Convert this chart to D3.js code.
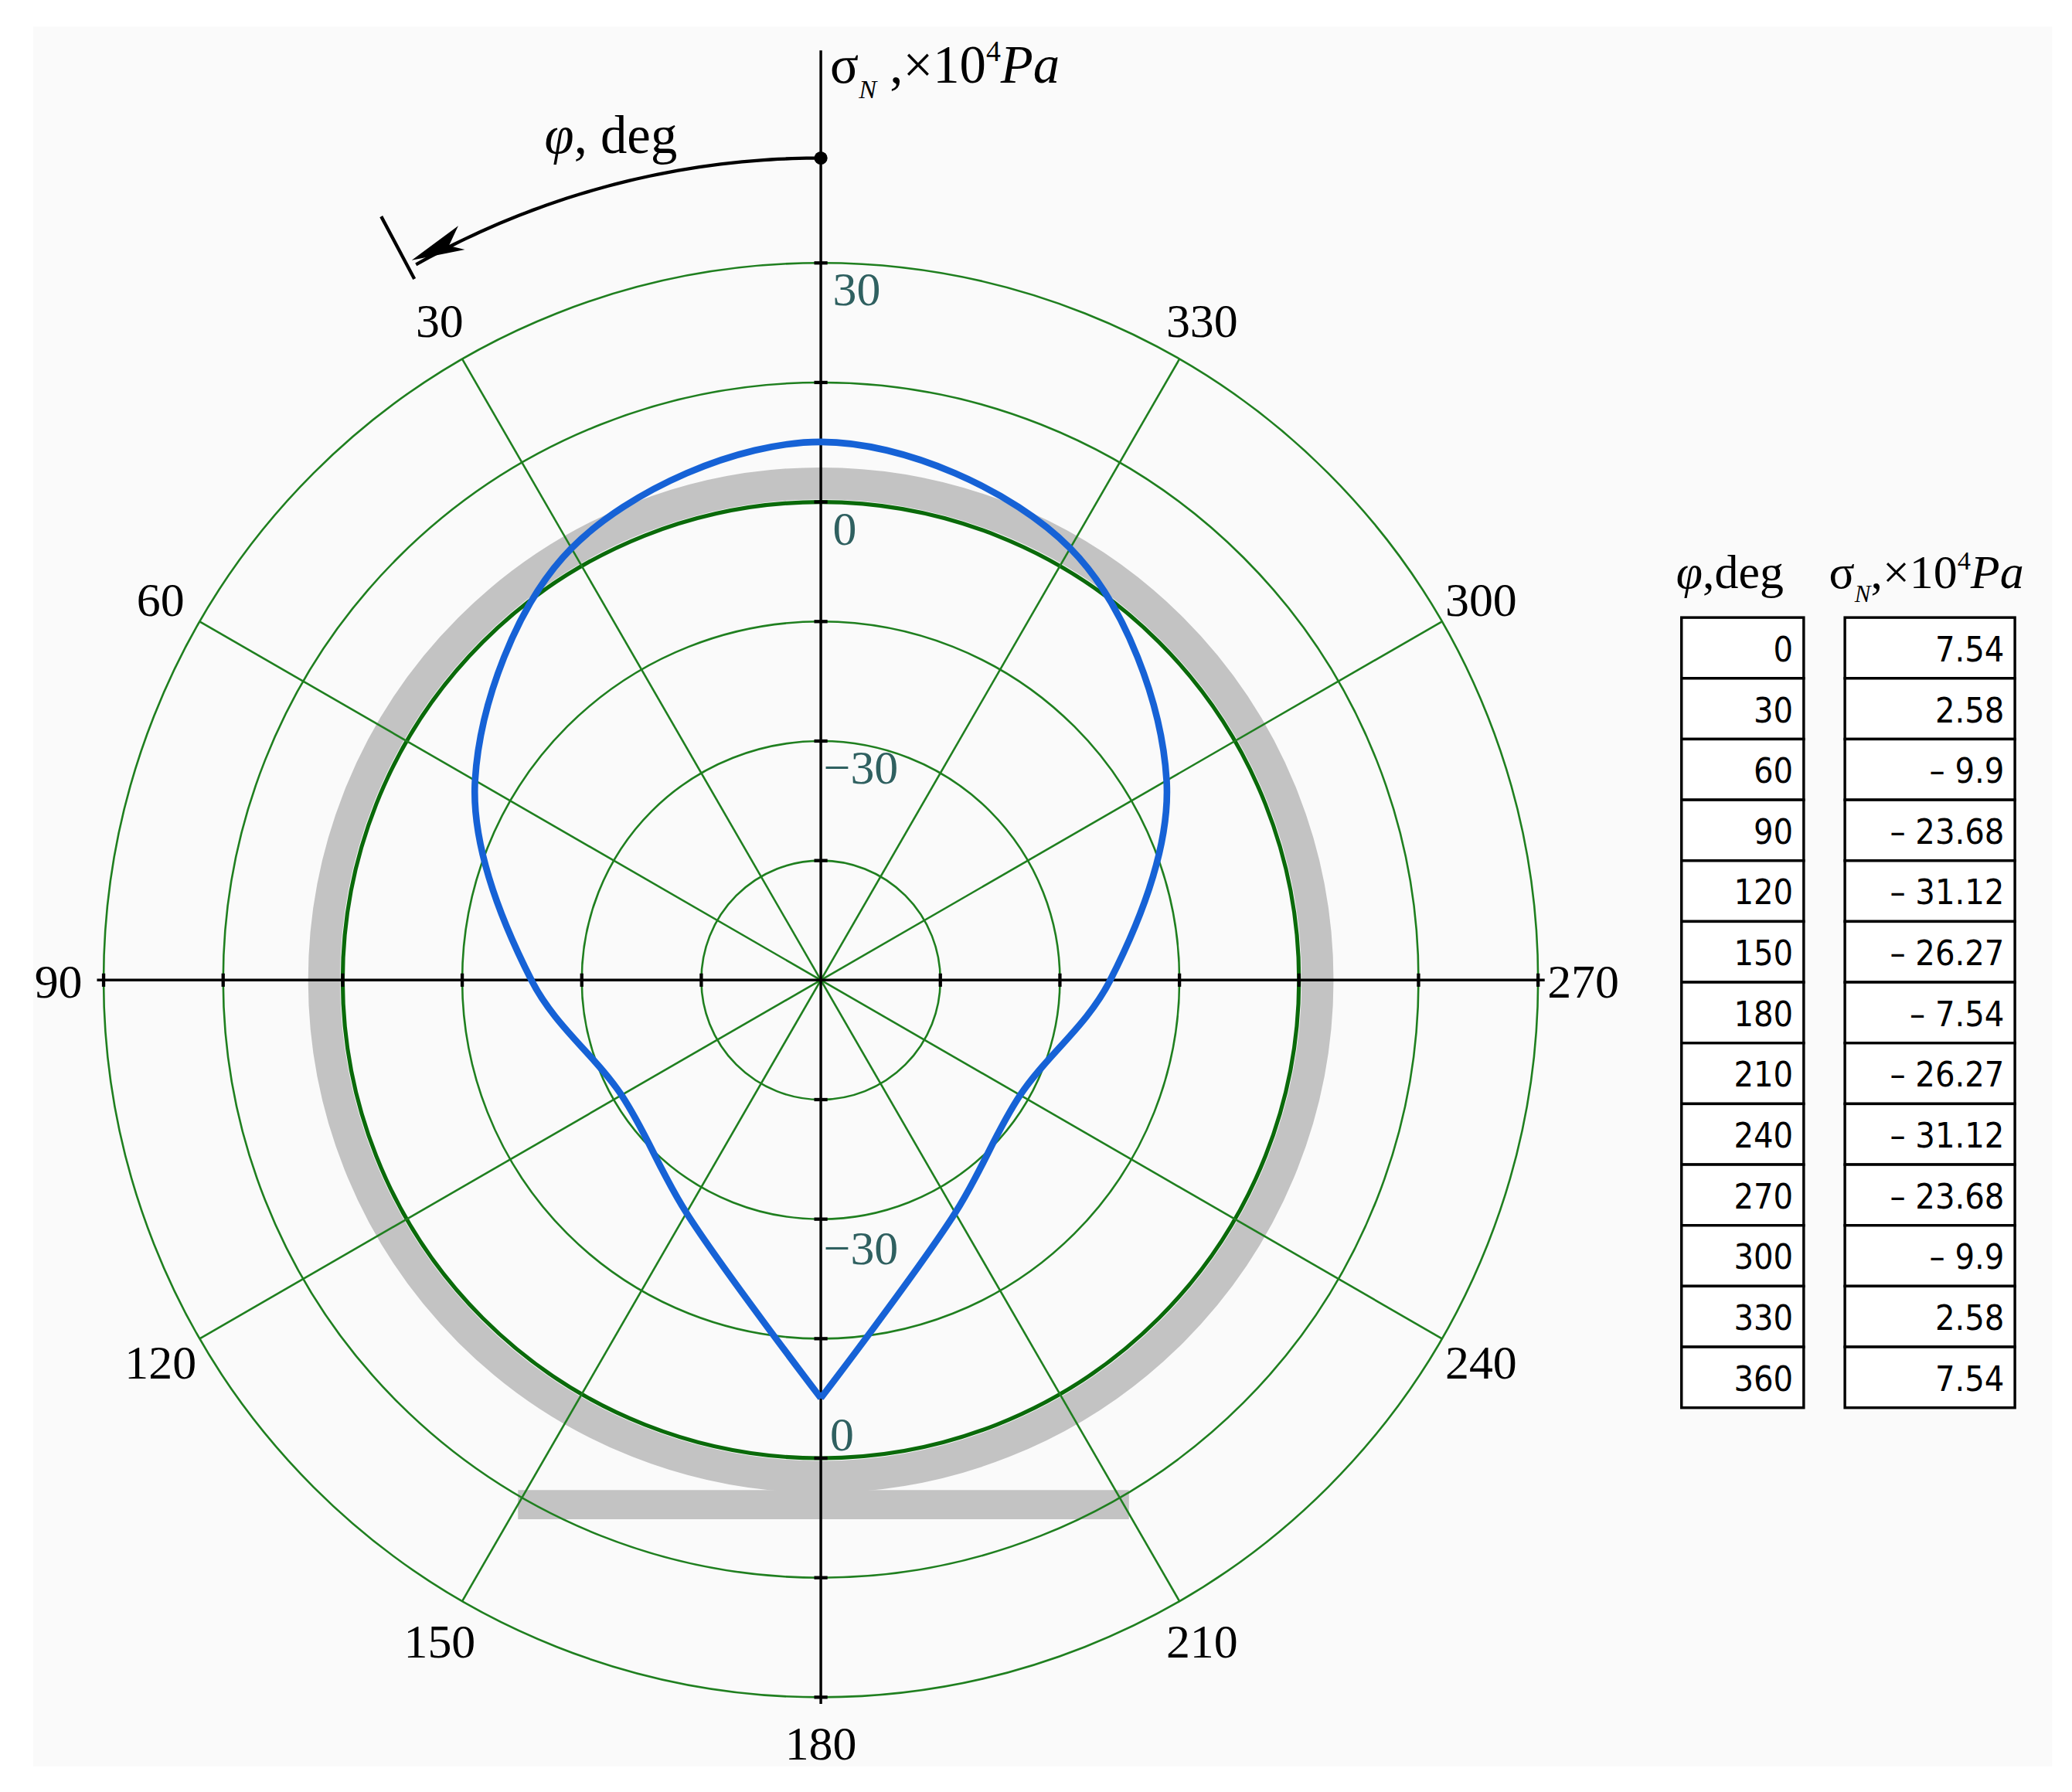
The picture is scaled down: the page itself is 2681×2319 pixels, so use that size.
<!DOCTYPE html><html><head><meta charset="utf-8"><script src="https://cdn.jsdelivr.net/npm/d3@7"></script>
<style>body{margin:0;background:#fff}</style></head><body><svg id="c" width="2681" height="2319"></svg>
<script>
const angles=[0,30,60,90,120,150,180,210,240,270,300,330,360];
const sigma=[7.54,2.58,-9.9,-23.68,-31.12,-26.27,-7.54,-26.27,-31.12,-23.68,-9.9,2.58,7.54];
const sigmaLabels=["7.54","2.58","\u2013 9.9","\u2013 23.68","\u2013 31.12","\u2013 26.27","\u2013 7.54","\u2013 26.27","\u2013 31.12","\u2013 23.68","\u2013 9.9","2.58","7.54"];
const ringValues=[-45,-30,-15,0,15,30];
const axisTickLabels=[{v:30,t:"30"},{v:0,t:"0"},{v:-30,t:"\u221230"}];
const spokeAngles=[0,30,60,90,120,150,180,210,240,270,300,330];
const angleLabels=[30,60,90,120,150,180,210,240,270,300,330];

const k=2681/1560;
const svg=d3.select("#c");
const g=svg.append("g").attr("transform",`scale(${k})`);
const cx=618,cy=738;
const r=d3.scaleLinear().domain([-60,30]).range([0,540]);
const pt=(phi,rad)=>[cx-rad*Math.sin(phi*Math.PI/180),cy-rad*Math.cos(phi*Math.PI/180)];
const green="#1f7f1f",serif="Liberation Serif, serif";
g.append("rect").attr("x",25).attr("y",20).attr("width",1520).attr("height",1310).attr("fill","#fafafa");
g.append("circle").attr("cx",cx).attr("cy",cy).attr("r",374).attr("fill","none").attr("stroke","#c3c3c3").attr("stroke-width",24);
g.append("line").attr("x1",390).attr("x2",850).attr("y1",1133).attr("y2",1133).attr("stroke","#c3c3c3").attr("stroke-width",22);
ringValues.forEach(v=>g.append("circle").attr("cx",cx).attr("cy",cy).attr("r",r(v)).attr("fill","none").attr("stroke",v===0?"#0a6a0a":green).attr("stroke-width",v===0?3:1.5));
spokeAngles.forEach(a=>{if(a%90===0)return;const p=pt(a,540);g.append("line").attr("x1",cx).attr("y1",cy).attr("x2",p[0]).attr("y2",p[1]).attr("stroke",green).attr("stroke-width",1.5);});
g.append("line").attr("x1",cx).attr("x2",cx).attr("y1",38).attr("y2",1283).attr("stroke","#000").attr("stroke-width",2);
g.append("line").attr("x1",73).attr("x2",1163).attr("y1",cy).attr("y2",cy).attr("stroke","#000").attr("stroke-width",2);
ringValues.forEach(v=>{const d=r(v);[-1,1].forEach(s=>{
 g.append("line").attr("x1",cx-5).attr("x2",cx+5).attr("y1",cy+s*d).attr("y2",cy+s*d).attr("stroke","#000").attr("stroke-width",2.5);
 g.append("line").attr("y1",cy-5).attr("y2",cy+5).attr("x1",cx+s*d).attr("x2",cx+s*d).attr("stroke","#000").attr("stroke-width",2.5);});});
axisTickLabels.forEach(o=>{g.append("text").attr("x",o.v===-30?620:627).attr("y",cy-r(o.v)+32).text(o.t).attr("font-family",serif).attr("font-size",36).attr("fill","#2f6060");});
[{v:-30,y:952},{v:0,y:1092}].forEach(o=>g.append("text").attr("x",o.v===-30?620:625).attr("y",o.y).text(o.v===0?"0":"\u221230").attr("font-family",serif).attr("font-size",36).attr("fill","#2f6060"));
angleLabels.forEach(a=>{const p=pt(a,574);g.append("text").attr("x",p[0]).attr("y",p[1]+13).attr("text-anchor","middle").text(a).attr("font-family",serif).attr("font-size",36);});
// curve: start at 180 cusp, go through 210..330, 0(=360)..150, back to 180
const pts=angles.map((a,i)=>[a,sigma[i]]);
const order=[6,7,8,9,10,11,0,1,2,3,4,5,6].map(i=>pts[i]);
const line=d3.line().x(d=>pt(d[0],r(d[1]))[0]).y(d=>pt(d[0],r(d[1]))[1]).curve(d3.curveCatmullRom.alpha(0.5));
g.append("path").datum(order).attr("d",line).attr("fill","none").attr("stroke","#1662d6").attr("stroke-width",5);
const arc=d3.range(0,29.6,0.5).map(a=>pt(a,619));
g.append("path").attr("d",d3.line()(arc)).attr("fill","none").attr("stroke","#000").attr("stroke-width",2.5);
g.append("circle").attr("cx",cx).attr("cy",119).attr("r",5);
g.append("path").attr("d","M310,196 L345,170 L338,185 L350,188 Z").attr("fill","#000");
g.append("line").attr("x1",287).attr("y1",163).attr("x2",312).attr("y2",210).attr("stroke","#000").attr("stroke-width",2.5);
g.append("text").attr("x",410).attr("y",115).attr("font-family",serif).attr("font-size",40).html('<tspan font-style="italic">φ</tspan>, deg');
g.append("text").attr("x",625).attr("y",62).attr("font-family",serif).attr("font-size",40).html('σ<tspan font-size="20" font-style="italic" dy="12">N</tspan><tspan dy="-12"> ,×10</tspan><tspan font-size="22" dy="-16">4</tspan><tspan dy="16" font-style="italic">Pa</tspan>');
g.append("text").attr("x",1262).attr("y",443).attr("font-family",serif).attr("font-size",36).html('<tspan font-style="italic">φ</tspan>,deg');
g.append("text").attr("x",1377).attr("y",443).attr("font-family",serif).attr("font-size",36).html('σ<tspan font-size="18" font-style="italic" dy="10">N</tspan><tspan dy="-10">,×10</tspan><tspan font-size="20" dy="-14">4</tspan><tspan dy="14" font-style="italic">Pa</tspan>');
const rowH=(1060-465)/13;
angles.forEach((a,i)=>{const y=465+i*rowH;
 g.append("rect").attr("x",1266).attr("y",y).attr("width",92).attr("height",rowH).attr("fill","#fff").attr("stroke","#000").attr("stroke-width",2);
 g.append("rect").attr("x",1389).attr("y",y).attr("width",128).attr("height",rowH).attr("fill","#fff").attr("stroke","#000").attr("stroke-width",2);
 g.append("text").attr("x",1350).attr("y",y+33).attr("text-anchor","end").text(a).attr("font-family","DejaVu Sans Condensed, DejaVu Sans, sans-serif").attr("font-size",26);
 g.append("text").attr("x",1509).attr("y",y+33).attr("text-anchor","end").text(sigmaLabels[i]).attr("font-family","DejaVu Sans Condensed, DejaVu Sans, sans-serif").attr("font-size",26);});
</script></body></html>
